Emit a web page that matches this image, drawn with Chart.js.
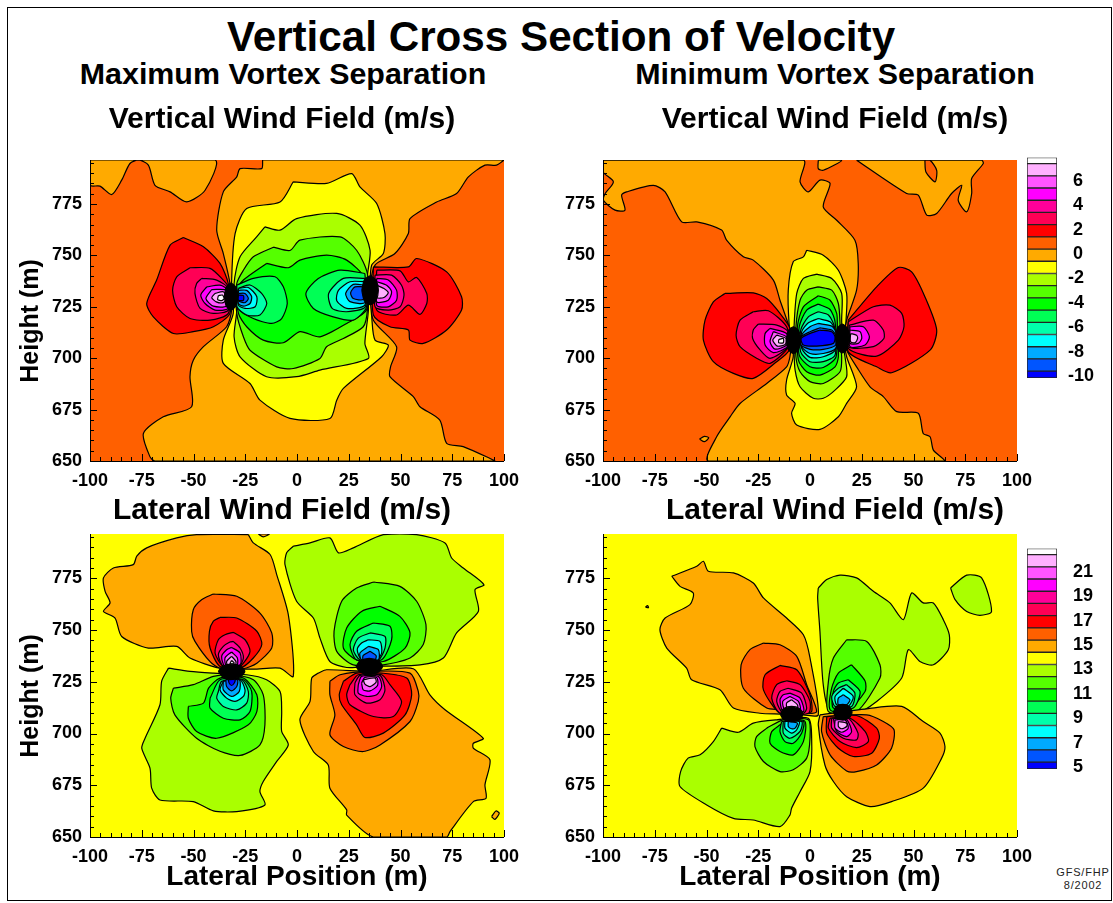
<!DOCTYPE html>
<html>
<head>
<meta charset="utf-8">
<script src="https://cdn.jsdelivr.net/npm/chart.js@4"></script>
<style>
html,body{margin:0;padding:0;background:#fff;overflow:hidden;width:1113px;height:903px}
#frame{position:absolute;left:7px;top:7px;width:1103px;height:892px;border:1px solid #000;box-sizing:content-box}
canvas{position:absolute}
.t{position:absolute;transform:translateX(-50%);white-space:nowrap;font-family:"Liberation Sans",Arial,sans-serif;font-weight:bold;color:#000;line-height:1}
.c{position:absolute;transform:translateX(-50%);white-space:nowrap;font-family:"Liberation Sans",Arial,sans-serif;color:#222;font-size:11px;line-height:1;letter-spacing:.8px}
</style>
</head>
<body>
<div id="frame"></div>
<div class="t" style="left:561px;top:16px;font-size:42.2px">Vertical Cross Section of Velocity</div>
<div class="t" style="left:283px;top:58px;font-size:30.4px">Maximum Vortex Separation</div>
<div class="t" style="left:835px;top:58px;font-size:30.4px">Minimum Vortex Separation</div>
<div class="c" style="left:1083px;top:867px">GFS/FHP</div>
<div class="c" style="left:1083px;top:880px">8/2002</div>
<canvas id="a" width="564" height="391" style="left:0;top:100px"></canvas>
<canvas id="b" width="556" height="391" style="left:557px;top:100px"></canvas>
<canvas id="c" width="564" height="405" style="left:0;top:490px"></canvas>
<canvas id="d" width="556" height="405" style="left:557px;top:490px"></canvas>
<canvas id="la" width="93" height="260" style="left:1020px;top:140px"></canvas>
<canvas id="lb" width="93" height="260" style="left:1020px;top:531px"></canvas>
<script>
const lateralTicks = [-100,-75,-50,-25,0,25,50,75,100];
const heightTicks = [650,675,700,725,750,775];
const heightMax = 796.4;
const verticalLegendLevels = [-10,-9,-8,-7,-6,-5,-4,-3,-2,-1,0,1,2,3,4,5,6,7,8];
const lateralLegendLevels = [5,6,7,8,9,10,11,12,13,14,15,16,17,18,19,20,21,22,23];
const verticalLegendLabels = [6,4,2,0,-2,-4,-6,-8,-10];
const lateralLegendLabels = [21,19,17,15,13,11,9,7,5];
const bandColors = ['#0000ff','#0055ff','#00aaff','#00ffff','#00ffaa','#00ff55','#00ff00','#55ff00','#aaff00','#ffff00','#ffaa00','#ff6000','#ff0000','#ff0055','#ff0099','#ff00ff','#ff55ff','#ffb0ff','#ffffff'];

// Each contour: [level, [[lateral, height], ...]]; level null = saturated vortex core
const contoursVerticalMax = [
 [1,[[-100,650],[100,650],[100,796.4],[-100,796.4]]],
 [0,[[-100,796.4],[-100,784.1],[-95.2,783.7],[-89.5,779.6],[-84.7,786.6],[-80.7,794.7],[-76.6,796.4],[-71.8,793.9],[-68.6,784.1],[-61.3,780.9],[-53.3,776],[-44.4,781.7],[-39.6,796.4]]],
 [0,[[-16.6,796.4],[100,796.4],[96.4,793.9],[90.8,793.9],[82.8,788.2],[77.1,780.1],[67.5,776],[54.6,767.9],[53.8,760.6],[47.3,750.9],[37.7,745.3],[35.3,731.5],[36.9,718.5],[48.1,705.6],[45.2,695.8],[44.9,691],[56.2,681.3],[59.4,676.4],[69,669.9],[72.3,658.6],[80.3,657],[94.8,650.5],[95.6,650],[-68.6,650],[-71,652],[-74.2,663.4],[-64.6,671.5],[-50.9,676.4],[-51.7,691],[-50.1,699],[-45.2,705.6],[-34,715.3],[-31.6,723.4],[-32.4,736.4],[-35.6,750.9],[-38.8,762.3],[-35.6,780.9],[-29.1,788.2],[-27.5,792.2],[-17.1,792.2]]],
 [-1,[[-1.8,785.8],[14.3,785],[26.4,789.8],[30.4,783.3],[38.5,775.2],[42.5,760.6],[41.7,750.9],[36.1,745.3],[35.3,733.1],[36.1,720.1],[37.7,708.8],[44.1,706.4],[40.9,700.7],[22.4,685.3],[19.2,679.6],[15.9,670.7],[-3.4,670.7],[-17.9,679.6],[-22.7,687.7],[-35.6,697.5],[-35.6,708.8],[-30.8,721.8],[-31.6,736.3],[-29.9,760.6],[-24.3,772.8],[-8.2,776]]],
 [-2,[[-15.5,763.9],[-8.2,762.3],[-.2,767.9],[19.2,770.4],[30.4,764.7],[35.3,752.5],[34,739.6],[34.5,723.4],[32.8,707.2],[34.5,699.9],[11.1,694.2],[-.2,691],[-14.7,691],[-27.5,700.7],[-30.4,710.4],[-29.1,723.4],[-30.4,736.3],[-27.5,749.3],[-19.5,759]]],
 [-3,[[-11.4,754],[-3.4,752.4],[1.4,757.4],[20.8,759],[28.8,752.5],[34,741.2],[34,723.4],[32,715.3],[22.4,709.6],[14.3,705.6],[11.1,699.9],[-1.8,695],[-9.8,695.8],[-22.7,703.9],[-25.9,710.4],[-29.1,721.8],[-29.1,736.3],[-25.9,742.8],[-21.1,749.3]]],
 [-4,[[-14.7,746.1],[-4.2,744],[1.4,747.7],[14.3,750.1],[24,747.7],[32.8,738.8],[33.6,723.4],[24,716.9],[11.1,710.4],[1.4,712.9],[-6.6,707.5],[-16.3,708.8],[-24.3,715.3],[-28.3,721.8],[-29.1,733.1],[-25.9,738]]],
 [-5,[[-29.1,735.5],[-21.1,738.8],[-10.6,739.6],[-6.6,734.7],[-4.7,726.6],[-7.4,719.3],[-12.2,716.9],[-21.1,719.3],[-28.3,724.2]]],
 [-5,[[32.8,741.2],[20.8,742.8],[10.3,738.8],[4.3,731.5],[7.9,724.2],[17.5,720.1],[27.2,718.5],[33.6,725]]],
 [-6,[[-28.3,734],[-22.7,735.6],[-17.1,731.5],[-14.6,726.6],[-17.9,721],[-24.3,721],[-29,725]]],
 [-6,[[32.8,738.8],[22.4,738.8],[15.3,731.5],[17,724.2],[24,722.6],[33,725]]],
 [-7,[[-28.3,733.9],[-23.5,734.4],[-19.4,729.9],[-20.2,725],[-25.1,724.2],[-28.3,725.8]]],
 [-7,[[32.8,737.2],[25.6,737.2],[20,733],[19.2,728],[24,724.2],[32.8,725.8]]],
 [-8,[[-28.3,733],[-24.3,733],[-21.9,729.9],[-22.7,726.6],[-25.9,725.3],[-28.3,726.6]]],
 [-8,[[32.8,735.5],[27.2,735.9],[23.5,731.5],[25.6,727.5],[32.8,727]]],
 [-9,[[-28.3,731.5],[-25.1,731.5],[-23.5,729],[-25.1,727],[-28.3,728]]],
 [-9,[[32,734.7],[28,734.7],[25.9,731.8],[27.2,729],[32,728.6]]],
 [-10,[[-28.3,730.7],[-25.9,730.4],[-25.9,728.2],[-28.3,728.2]]],
 [2,[[-54.9,758.7],[-45.2,754.2],[-37.2,746.1],[-33.2,736.3],[-32.4,721.8],[-40.4,715.3],[-50.1,712.9],[-59.7,712],[-69.4,720.1],[-72.6,726.6],[-67.8,738],[-61.3,755]]],
 [3,[[-51.7,744],[-42,743.7],[-35.6,738],[-33.2,734.7],[-33.2,721.8],[-42,718.5],[-51.7,719.3],[-58.1,725],[-60.1,733.1],[-58.1,739.6]]],
 [4,[[-46,738.8],[-38.8,738],[-33.2,733.9],[-33.2,723.4],[-40.4,721.8],[-46.8,724.2],[-49.3,731.5],[-48.5,736.3]]],
 [5,[[-43.6,734.7],[-37.2,735.5],[-33.2,733],[-33.2,724.2],[-39.6,723.4],[-44.4,726.6],[-46.5,730.7]]],
 [6,[[-41.2,733.4],[-34,733],[-34,725.5],[-40.4,725.3],[-44,729]]],
 [7,[[-39.6,731.5],[-35.6,732.3],[-34,729],[-35.6,727],[-39,727.4],[-41.2,729.5]]],
 [8,[[-38,730.4],[-36,730.7],[-35.2,729],[-36.4,728],[-38.3,728.5]]],
 [2,[[36.9,744.4],[53.8,744.4],[57.8,748.5],[72.3,742],[79.5,729.9],[79.5,723.4],[72.3,713.7],[61,707.2],[54.6,708.8],[53.8,713.7],[44.9,715.3],[36.9,721]]],
 [3,[[38.5,742.8],[49.8,742.5],[53.8,737.1],[57.8,739.3],[62.7,731.5],[62.7,726.6],[59.4,721.3],[53.8,725.8],[48.1,721],[38.5,723.4]]],
 [4,[[37.7,740.4],[45.7,740.4],[50.5,735.5],[51.7,730.7],[49.8,725],[44.1,723.4],[37.7,725]]],
 [5,[[38.5,738.8],[44.1,738],[48.1,733.1],[48.1,728.2],[44.1,725],[38.5,725.8]]],
 [6,[[38.5,737.2],[43.3,735.5],[45.7,732.3],[44.1,728.2],[38.5,727.4]]],
 [7,[[38.5,735.5],[42,733.9],[44.1,731.8],[42,729.5],[38.5,729.5]]],
 [null,[[-35.1,730],[-34.2,734.6],[-31.9,736.5],[-29.6,734.6],[-28.7,730],[-29.6,725.4],[-31.9,723.5],[-34.2,725.4]]],
 [null,[[31.3,733],[32.5,738],[35.3,740],[38.1,738],[39.3,733],[38.1,728],[35.3,726],[32.5,728]]]
];
const contoursVerticalMin = [
 [1,[[-100,650],[100,650],[100,796.4],[-100,796.4]]],
 [0,[[-100,796.3],[-100,790.6],[-95,785.8],[-99,780],[-99.8,776.8],[-94.2,772],[-89.4,772],[-91,779.3],[-88.6,780.9],[-75.7,784.1],[-70,780.9],[-62,766.3],[-54.7,766.3],[-42.7,762.3],[-40.3,757.4],[-32.2,749.3],[-27.4,747.7],[-17.7,738],[-14.5,728.2],[-10.1,715.3],[-8.9,708.8],[-9.7,700.7],[-11.3,695.8],[-20.9,687.7],[-33.8,678],[-38.6,671.5],[-45.1,661.8],[-49.1,650],[64.7,650],[59.6,655.3],[58,661.8],[54.7,663.4],[52.3,673.2],[41.9,674],[35.4,681.3],[29,686.1],[22.5,695.8],[17.7,703.9],[16.1,708.8],[17.7,718.5],[22.5,733.1],[23.3,746.1],[21.7,757.4],[12.9,767.1],[6.4,773.6],[9.7,785],[4.8,786.6],[-.8,780.9],[-4.8,785.8],[-3.2,796.3]]],
 [0,[[22.5,796.3],[46.7,780.1],[52.3,779.3],[56.4,769.6],[61.2,770.4],[68.4,780.1],[73.3,784.1],[71.6,776.8],[75.7,771.2],[78.1,780.1],[78.1,787.4],[83.7,794.7],[82.9,796.3]]],
 [1,[[55.5,796.3],[56,790.6],[60.4,785.8],[61.2,791.4],[58,796.3]]],
 [0,[[4,796.3],[4,792.2],[6.4,791.4],[15.3,796.3]]],
 [0,[[-53.4,660.7],[-51,662],[-48.9,661.3],[-51,659.4]]],
 [-1,[[-1.6,752.5],[6.4,750.1],[13.7,742.8],[17.7,731.5],[17.4,718.5],[16.4,708.8],[17.7,700.7],[22.5,686.1],[17.7,678],[13.7,671.5],[4.8,665.4],[-6.4,667.5],[-8.9,673.2],[-7.2,678],[-11.3,682.1],[-11.3,689.4],[-8.1,700.7],[-8.9,708.8],[-10.1,716.9],[-10.5,733.1],[-8.1,746.9],[-3.2,749.3]]],
 [-2,[[3.2,740.9],[10.5,738.8],[15.3,731.5],[15.3,718.5],[15.6,708.8],[16.9,700.7],[17.7,691],[12.1,684.5],[6.4,680.5],[1.6,680.5],[-4.8,686.1],[-7.2,694.2],[-7.7,703.9],[-7.7,715.3],[-6.4,731.5],[-3.2,738.8]]],
 [-3,[[4,734.7],[10.5,733.1],[13.7,726.6],[14.5,716.9],[14.5,708.8],[15.3,700.7],[14.5,693.4],[6.4,687.7],[0,688.6],[-4.8,693.4],[-6.8,700.7],[-6.8,715.3],[-4.8,728.2],[-1.6,733.1]]],
 [-4,[[4,730.4],[9.7,728.2],[12.9,721.8],[13.2,715.3],[13.7,700.7],[12.1,695.8],[4.8,691.8],[-1.6,693.4],[-5.6,699.1],[-6.1,715.3],[-3.2,725]]],
 [-5,[[4,726.3],[9.7,723.7],[12.1,717.7],[12.6,700.7],[6.4,695.5],[0,695.8],[-5.2,701.5],[-5.2,715.3],[-1.6,723.4]]],
 [-6,[[4,722.6],[8.9,721],[11.8,715.3],[12.1,701.5],[6.4,698.3],[0,698.3],[-4.5,703.1],[-4.5,713.7],[-.8,720.1]]],
 [-7,[[4,719.3],[9.7,717.7],[12.1,713.7],[12.1,703.9],[6.4,700.7],[0,700.4],[-4,704.8],[-4,712.9],[-.8,717.2]]],
 [-8,[[4,716.9],[10.5,715.6],[12.4,712.9],[12.4,704.8],[6.4,702.3],[0,702.3],[-4,705.6],[-4,711.2],[0,715.3]]],
 [-9,[[4.8,714.8],[10.5,713.7],[12.4,711.2],[12.4,706.4],[6.4,704.3],[0,704.3],[-4.3,706.4],[-4.3,710.4],[0,712.9]]],
 [-10,[[4.8,713.7],[10.5,712.9],[12.1,710.4],[11.3,707.2],[3.2,705.9],[-3.2,706.4],[-4.3,709.6],[-.8,711.7]]],
 [2,[[-41.1,731.5],[-27.4,731.8],[-20.9,729],[-14.5,721.8],[-9.7,714.5],[-10.1,703.9],[-16.1,698.3],[-27.4,690.2],[-37,692.6],[-46.7,698.3],[-51.5,708.8],[-50.7,718.5],[-46.7,727.4]]],
 [3,[[-27.4,722.6],[-20.1,723.1],[-11.3,715.3],[-10.5,705.6],[-19.3,697.5],[-25.8,700],[-33.8,705.6],[-35.7,711.2],[-33.8,718.5]]],
 [4,[[-25,716.6],[-16.1,716.1],[-10.5,712.9],[-10.5,705.6],[-19.3,699.9],[-24.1,704],[-27.7,709.6],[-27.4,713.7]]],
 [5,[[-19.3,714.5],[-11.3,712],[-10.9,705.6],[-17.7,702.7],[-21.7,706.4],[-21.7,712]]],
 [6,[[-17.7,712.9],[-11.3,710.4],[-11.3,706.4],[-16.9,704.4],[-19.3,708]]],
 [7,[[-16.1,711.2],[-11.6,709.6],[-12,706.7],[-15.8,705.9],[-18,708.8]]],
 [8,[[-15.1,709.1],[-12.9,709.6],[-12.9,707.5],[-15.1,707.5]]],
 [2,[[18.5,718.5],[32.2,734.7],[42.7,744.1],[49.1,742],[55.5,729.9],[61.2,713.7],[58,703.9],[39.4,692.9],[32.2,695.8],[18.5,703.1]]],
 [3,[[18.5,717.7],[30.6,725],[38.6,725.8],[44.3,721.8],[45.4,715.3],[42.7,708.8],[32.2,701],[18.5,704.8]]],
 [4,[[19,716.1],[30.6,718.5],[35.4,713.7],[35.7,709.6],[30.6,705.6],[18.5,705.6]]],
 [5,[[19.3,715.3],[25.8,715.3],[28.7,710.4],[26.6,706.4],[19.3,705.6]]],
 [6,[[19.3,713.7],[24.2,712.9],[25,709.6],[23.3,707.2],[19.3,707.2]]],
 [7,[[19.6,712],[22.5,711.2],[23,709.6],[21.7,707.5],[19.6,708]]],
 [null,[[-11.5,708.8],[-10.5,713.4],[-8,715.3],[-5.5,713.4],[-4.5,708.8],[-5.5,704.2],[-8,702.3],[-10.5,704.2]]],
 [null,[[12.3,709.6],[13.2,714.5],[15.6,716.6],[18,714.5],[18.9,709.6],[18,704.7],[15.6,702.6],[13.2,704.7]]]
];
const contoursLateralMax = [
 [14,[[-100,650],[100,650],[100,796.4],[-100,796.4]]],
 [15,[[-23.5,796.1],[-21.1,792.1],[-13,786.5],[-9.8,776.8],[-4.2,757.4],[-1.8,727.6],[-8.2,731.6],[-21.1,731.1],[-37.2,731.6],[-51.7,736.5],[-58.1,742.1],[-71.8,741.3],[-84.7,746.9],[-87.9,755.8],[-93.5,759],[-90.3,763.1],[-92.7,768.7],[-93.5,775.2],[-88.7,780],[-79.1,781.6],[-77.4,785.7],[-72.6,789.7],[-58.1,794.5],[-48.5,796.1]]],
 [15,[[-18.7,796.4],[-16.3,795],[-13.4,796.4]]],
 [16,[[-40.4,767.4],[-29.1,766.3],[-17.9,758.2],[-12.2,748.6],[-12.2,741.3],[-19.4,734],[-25.9,731.3],[-37.2,731.6],[-42,734.7],[-49.3,744.5],[-50.9,749.3],[-50.1,759.8],[-46.1,764.6]]],
 [17,[[-37.2,756.1],[-29.1,755.8],[-19.4,749.4],[-17,743],[-21.1,736.5],[-27.5,731.6],[-37.2,732.4],[-42,741.3],[-42.3,749.4],[-40.4,754.3]]],
 [18,[[-30.8,748.9],[-25.1,745.3],[-22.7,739.7],[-25.9,734],[-29.1,731.6],[-35.6,732.4],[-39.6,738.9],[-38,745.3],[-34.8,747.7]]],
 [19,[[-30.8,744.5],[-27.5,741.3],[-25.9,736.5],[-28.3,732],[-35.6,732.4],[-38,738.1],[-35.6,742.1],[-32.4,744.2]]],
 [20,[[-31.6,741.6],[-27.5,738.9],[-27.5,733.2],[-34.8,732.4],[-36.4,737.3],[-34,740.5]]],
 [21,[[-31.6,739.4],[-28.8,736.5],[-29.1,732.4],[-34,732.4],[-34.8,736.5]]],
 [22,[[-31.6,737.3],[-29.5,734.8],[-30,732.4],[-33.2,732.4],[-34,734.8]]],
 [23,[[-31.6,735.3],[-30.3,734],[-32.4,733.7]]],
 [13,[[-62.1,731.6],[-51.7,730],[-40.4,729.2],[-24.3,728.4],[-14.7,726],[-8.2,720.3],[-7.4,710.6],[-7.4,701],[-4.2,694.5],[-9.8,686.5],[-16.3,676.8],[-17.9,671.9],[-15.5,665.5],[-29.1,662.3],[-40.4,662.6],[-50.1,667.1],[-66.2,667.9],[-70.2,673.6],[-71,683.2],[-75,692.9],[-73.4,697.7],[-66.2,713.9],[-65.4,725.2]]],
 [12,[[-59.7,721.9],[-50.1,723.6],[-40.4,727.6],[-31.6,728.4],[-21.1,726],[-16.3,718.7],[-15.5,704.2],[-17.9,694.5],[-27.5,689.4],[-37.2,691.4],[-48.5,697.7],[-59,709],[-61,717]]],
 [11,[[-52.5,713.1],[-45.2,714.7],[-42.7,721.9],[-37.2,726.8],[-25.9,726.8],[-19.4,718.7],[-19.4,710.6],[-23.5,704.2],[-38.8,697.7],[-48.5,701],[-52.5,707.4]]],
 [10,[[-42,717],[-37.2,726],[-25.9,726],[-21.9,720.3],[-22.7,710.6],[-27.5,706.6],[-35.6,707.4],[-42,712.3]]],
 [9,[[-38,720.3],[-36.4,725.2],[-26.7,726],[-23.5,720.3],[-24.3,714.7],[-29.1,711.4],[-35.6,713.1],[-38.8,717.1]]],
 [8,[[-35.6,725.2],[-27.5,726],[-25.1,721.1],[-25.9,717.9],[-29.9,715.5],[-34,717.1],[-37.2,721.1]]],
 [7,[[-35.6,725.2],[-27.9,726],[-27.9,720.3],[-31.6,717.9],[-35.6,721.1]]],
 [6,[[-34.4,726],[-28.8,726],[-29.1,722.7],[-31.6,720.6],[-34,722.7]]],
 [5,[[-33.2,726],[-29.9,726],[-30.3,724.4],[-31.6,723.2],[-32.8,724.4]]],
 [13,[[-1.8,790.5],[-5,787.3],[-5.8,781.6],[-.2,763.9],[7.9,755.8],[11.1,746.1],[15.9,734.8],[24,731.9],[35.3,732.4],[59.4,733.2],[70.7,736.5],[77.1,748.6],[87.6,759],[86,769.5],[90.3,771.9],[80.3,780],[74.7,784.8],[71.5,792.1],[57.8,796.1],[41.7,796.1],[27.2,789.7],[20,787.3],[15.9,794.5],[6.3,792.1]]],
 [12,[[37.1,773.2],[49.7,771.1],[57.8,763.9],[62.3,752.6],[61,743],[54.6,736.5],[41.7,733.2],[27.2,733.2],[19.2,739.7],[17.9,749.4],[21.6,763.9],[28.8,770.3]]],
 [11,[[40.1,761.5],[49.7,756.6],[54.6,748.6],[52.2,741.3],[41.7,734.8],[28.8,735.6],[22.4,741.3],[24,751],[31.2,759]]],
 [10,[[36.9,753.4],[44.9,751.8],[45.7,745.3],[40.9,735.6],[28.8,735.6],[25.6,742.9],[28.8,749.4]]],
 [9,[[35.3,748.6],[42.5,746.9],[42.5,741.3],[39.3,735.6],[30.4,735.6],[27.2,740.5],[29.6,746.1]]],
 [8,[[34.5,745.3],[40.1,744.5],[40.9,738.9],[38.5,735.6],[31.2,735.6],[29.1,740.5],[31.2,743.7]]],
 [7,[[34.5,742.1],[39.3,740.5],[39.3,735.6],[31.2,735.6],[30.4,738.9]]],
 [6,[[35.3,739.7],[38.2,737.7],[37.7,735.6],[32,735.6],[32,737.7]]],
 [15,[[10.3,729.2],[14.3,730.8],[35.3,730],[56.2,731.3],[64.2,718.7],[71.5,711.5],[90,697.7],[85.2,695.3],[85.2,692.9],[93.2,687.3],[90.8,675.2],[91.3,668.7],[85.2,667.1],[73.9,652.6],[72.3,650],[36.9,650],[24,660.6],[24,663.1],[15.9,673.6],[15.1,684.8],[7.9,691.3],[1.4,706.6],[6.3,715.5],[7.1,726.8]]],
 [15,[[94,659.8],[96.1,662.6],[97.7,661.5],[95.6,658.5]]],
 [16,[[15.9,725.2],[20.8,728.4],[35.3,730],[54.6,729.2],[58.6,720.3],[58.6,715.5],[54.6,705.8],[40.1,694.5],[32,691.3],[22.4,693.7],[15.9,699.4],[18.3,709],[15.9,718.7]]],
 [17,[[22.4,725.2],[28.8,729.2],[40.9,729.2],[53,726.8],[55.4,718.7],[52.2,709],[41.7,700.2],[32.8,698.1],[28.8,704.2],[21.6,713.9],[20.4,718.7]]],
 [18,[[25.6,723.6],[29.6,728.4],[40.9,728.4],[44.9,723.6],[50.5,715.5],[46.5,708.2],[36.9,708.2],[25.6,713.9],[24,718.7]]],
 [19,[[28,724.4],[30.4,728.1],[40.1,728.1],[42.5,721],[40.1,716.3],[33.6,714.7],[28,718.7]]],
 [20,[[29.6,723.6],[31.2,727.6],[39.3,727.6],[40.9,722.7],[38.5,718.7],[33.6,717.9],[29.6,719.5]]],
 [21,[[31.2,724.4],[32.8,727.1],[38.5,727.1],[38.9,723.2],[35.3,720.6],[32,721.1]]],
 [22,[[32,726],[37.7,726.8],[38.2,724.8],[35.3,722.7],[32.8,723.9]]],
 [null,[[-38,730],[-36,732.5],[-31.6,733.5],[-27.2,732.5],[-25.2,730],[-27.2,727.5],[-31.6,726.5],[-36,727.5]]],
 [null,[[28.5,732.4],[30.5,735.1],[34.9,736.3],[39.3,735.1],[41.3,732.4],[39.3,729.7],[34.9,728.5],[30.5,729.7]]]
];
const contoursLateralMin = [
 [14,[[-100,650],[100,650],[100,796.4],[-100,796.4]]],
 [15,[[-66.8,776],[-54.7,780.8],[-51.5,783.2],[-49.1,778.4],[-37,777.6],[-27.4,772.7],[-22.5,765.5],[-11.3,755.8],[-3.2,747.7],[0,736.5],[4,709],[-3.2,709],[-14.5,709.4],[-24.2,709.8],[-37,712.3],[-43.5,721.1],[-57.2,726],[-59.6,731.6],[-69.2,741.3],[-72.5,750.2],[-70,755.8],[-58,762.3],[-56.4,767.9],[-62.8,771.1]]],
 [15,[[-79.5,761],[-78.5,761.8],[-78,760.8]]],
 [16,[[-22.5,743.7],[-14.5,742.9],[-6.4,737.3],[-1.6,723.6],[3.2,710.6],[-3.2,709.8],[-14.5,711.5],[-20.9,712.3],[-32.2,721.9],[-33.3,733.2],[-29,740.5]]],
 [17,[[-14.5,732.9],[-6.4,730.8],[0,718.7],[.8,710.6],[-3.2,709.8],[-14.5,709.8],[-22.5,721.1],[-21.7,728.4]]],
 [18,[[-11.3,725.5],[-4.8,723.6],[0,715.5],[-.8,709.8],[-14.5,709.8],[-18.5,717.1],[-16.1,723.6]]],
 [19,[[-10.5,721.9],[-4,719.5],[-1.6,712.3],[-3.2,709.8],[-12.9,709.8],[-16.1,715.5],[-14.5,720.3]]],
 [20,[[-9.7,719.5],[-4.8,717.1],[-3.2,710.6],[-12.9,710.6],[-14.5,716.3],[-12.9,718.7]]],
 [21,[[-9.7,717.9],[-5.6,715.5],[-4.8,711.5],[-12.1,711.5],[-13.2,715.5]]],
 [22,[[-8.9,716.3],[-6.1,713.9],[-6.1,711.9],[-10.9,711.9],[-11.3,714.7]]],
 [13,[[4,770.3],[8.1,774.4],[14.5,776.5],[22.5,775.2],[30.6,768.7],[38.6,763.1],[45.1,755],[49.1,767.9],[54.7,763.1],[59.6,763.1],[64.4,755],[67.3,747.7],[66.8,740.5],[59.6,733.2],[53.1,734.8],[47.5,740.5],[44.3,726.8],[32.2,715.5],[22.5,709.8],[9.7,710.6],[6.4,723.6],[4.8,749.4],[3.7,765.5]]],
 [13,[[67.9,770.3],[75.7,776.5],[82.9,775.2],[87.7,759],[82.1,757.1],[75.7,759],[70.1,764.7]]],
 [12,[[17.7,745.3],[27.4,744.5],[33.8,733.2],[33.8,726.8],[22.5,710.6],[8.9,710.6],[8.9,725.2],[11.3,736.5]]],
 [11,[[20.1,733.2],[26.6,725.4],[26.6,720.3],[17.7,710.6],[9.7,711.5],[10.5,722],[13.7,729.2]]],
 [10,[[18.5,726],[24.2,720.3],[20.9,712.3],[11.3,712.3],[11.3,720.3],[13.7,724.4]]],
 [9,[[17.7,723.6],[21.7,719.5],[20.1,713.1],[12.1,713.1],[10.5,717.9],[13.7,721.9]]],
 [8,[[16.1,721.9],[20.9,717.9],[18.5,713.1],[12.9,713.9],[12.1,717.9]]],
 [7,[[16.1,718.7],[19.3,716.3],[17.7,713.9],[13.7,713.9],[13.7,717.1]]],
 [13,[[-42.7,702.6],[-34.6,700.6],[-27.4,705],[-16.1,706.6],[-.8,707.4],[.8,697.7],[0,681.6],[-4.8,671.9],[-8.9,663.9],[-9.7,660.6],[-14.5,655],[-27.4,658.2],[-37,659],[-49.9,665.5],[-62.8,674.4],[-62.5,681.6],[-58.9,688.1],[-53.1,689.7],[-46.7,696.1]]],
 [12,[[-20.9,702.6],[-12.9,706.6],[-.8,706.6],[0,697.7],[-1.6,688.1],[-8.1,682.5],[-14.5,681.6],[-22.5,686.5],[-26.6,693.7],[-25.8,698.5]]],
 [11,[[-14.5,704.2],[-9.7,706.6],[-2.4,705.8],[-3.2,696.1],[-8.1,689.7],[-14.5,691.3],[-19.3,695.3],[-18.5,700.9]]],
 [10,[[-13.7,705.8],[-3.2,705.8],[-4,700.2],[-8.1,695.3],[-12.1,696.1],[-14.5,700.9]]],
 [9,[[-12.9,705.8],[-4,705.8],[-4.8,701],[-9.7,697.7],[-12.9,700.2]]],
 [8,[[-12.1,705.8],[-5.2,705.8],[-6.4,701.8],[-8.9,700.2],[-12.1,702.6]]],
 [7,[[-10.5,705.8],[-6.1,705],[-7.2,702.6],[-8.9,702.3],[-10.5,703.4]]],
 [15,[[4.8,709],[27.4,711.9],[44.3,713.1],[54.7,705.8],[62.8,700.2],[65.2,693.7],[63.6,688.1],[54.7,673.6],[39.4,667.1],[29,664.7],[17.7,669.5],[11.3,676.8],[7.2,684.8],[4,704.2]]],
 [16,[[6.4,708.2],[27.4,709],[35.4,705.8],[40.6,701.8],[39.4,692.9],[32.2,684.8],[22.5,681.6],[17.7,681.9],[9.7,689.7],[5.6,700.9]]],
 [17,[[8.1,708.2],[22.5,708.7],[32.2,702.6],[33.5,697.7],[29.8,690.5],[20.9,688.9],[13.7,692.9],[8.1,700.2]]],
 [18,[[9.7,707.4],[19.3,707.4],[26.6,701],[28.2,696.1],[22.5,693.2],[14.5,696.1],[8.9,702.6]]],
 [19,[[10.5,707.4],[18.5,707.4],[23.2,700.2],[22.5,696.9],[16.1,697.7],[10.5,702.6]]],
 [20,[[11.3,707.4],[17.7,706.6],[20.1,701],[17.7,698.5],[12.9,701]]],
 [21,[[12.1,706.6],[16.9,706.6],[18.5,702.6],[15.3,700.6],[12.1,702.6]]],
 [22,[[13.7,705.8],[17.7,705],[17.7,703.4],[15.3,702.3],[13.7,703.4]]],
 [null,[[-14.4,709.4],[-12.8,712],[-8.9,713.1],[-5,712],[-3.4,709.4],[-5,706.8],[-8.9,705.7],[-12.8,706.8]]],
 [null,[[11.3,710.3],[12.6,713],[15.8,714.1],[19,713],[20.3,710.3],[19,707.6],[15.8,706.5],[12.6,707.6]]]
];

const FONT = '"Liberation Sans", Arial, sans-serif';

const inwardTicks = {
  id: 'inwardTicks',
  afterDatasetsDraw(chart) {
    const {ctx, chartArea: a, scales: {x, y}} = chart;
    ctx.save();
    ctx.strokeStyle = '#000';
    ctx.lineWidth = 1;
    ctx.beginPath();
    ctx.moveTo(a.left + .5, a.top); ctx.lineTo(a.left + .5, a.bottom + .5); ctx.lineTo(a.right, a.bottom + .5);
    x.ticks.forEach(t => {
      const p = Math.round(x.getPixelForValue(t.value)) + .5, len = t.value % 25 === 0 ? 7 : 4;
      ctx.moveTo(p, a.bottom); ctx.lineTo(p, a.bottom - len);
    });
    y.ticks.forEach(t => {
      const p = Math.round(y.getPixelForValue(t.value)) + .5, len = t.value % 25 === 0 ? 7 : 4;
      ctx.moveTo(a.left, p); ctx.lineTo(a.left + len, p);
    });
    ctx.stroke();
    ctx.restore();
  }
};

function contourDatasets(contours, lowest) {
  return contours.map(([level, pts], i) => {
    const closed = pts.concat([pts[0]]).map(([x, y]) => ({x, y}));
    const isBase = i === 0;
    return {
      data: closed,
      showLine: true,
      fill: 'shape',
      tension: isBase ? 0 : 0.25,
      backgroundColor: level === null ? '#000' : bandColors[level - lowest],
      borderColor: isBase ? 'rgba(0,0,0,0)' : '#000',
      borderWidth: isBase ? 0 : 1.2,
      pointRadius: 0,
      pointHoverRadius: 0,
      order: contours.length - i
    };
  });
}

function panel(id, contours, lowest, titleText, opts) {
  const el = document.getElementById(id);
  new Chart(el, {
    type: 'scatter',
    data: {datasets: contourDatasets(contours, lowest)},
    plugins: [inwardTicks],
    options: {
      responsive: false,
      animation: false,
      events: [],
      layout: {autoPadding: false, padding: 0},
      plugins: {
        legend: {display: false},
        tooltip: {enabled: false},
        title: {display: true, text: titleText, color: '#000', font: {family: FONT, size: 30, weight: 'bold', lineHeight: 1.2}, padding: opts.titlePad}
      },
      scales: {
        x: {
          type: 'linear', min: -100, max: 100,
          grid: {display: false}, border: {display: false},
          afterFit: s => { s.height = opts.xh; },
          title: opts.xTitle ? {display: true, text: 'Lateral Position (m)', color: '#000', font: {family: FONT, size: 28, weight: 'bold', lineHeight: 1.2}, padding: {top: 0, bottom: 1}} : {display: false},
          ticks: {
            stepSize: 5, autoSkip: false, maxRotation: 0, minRotation: 0, padding: 1, color: '#000',
            font: {family: FONT, size: 18, weight: 'bold'},
            callback: v => lateralTicks.includes(v) ? String(v) : ''
          }
        },
        y: {
          type: 'linear', min: 650, max: heightMax,
          grid: {display: false}, border: {display: false},
          afterFit: s => { s.width = opts.yw; },
          title: opts.yTitle ? {display: true, text: 'Height (m)\u00a0\u00a0\u00a0', color: '#000', font: {family: FONT, size: 25, weight: 'bold', lineHeight: 1.2}, padding: {top: 16, bottom: 0}} : {display: false},
          ticks: {
            stepSize: 5, includeBounds: false, autoSkip: false, padding: 0, color: '#000',
            font: {family: FONT, size: 18, weight: 'bold'},
            callback: v => heightTicks.includes(v) ? String(v) : ''
          }
        },
        gutter: {
          axis: 'y', position: 'right', type: 'linear', min: 0, max: 1,
          grid: {display: false}, border: {display: false}, ticks: {display: false},
          afterFit: s => { s.width = opts.right; }
        }
      }
    }
  });
}

function colorbar(id, levels, labels, zeroLevel) {
  const datasets = levels.map((lv, i) => ({
    data: [[Math.max(lv - 0.6, zeroLevel - 10.16), Math.min(lv + 0.4, zeroLevel + 7.9)]],
    backgroundColor: bandColors[i],
    borderColor: '#222',
    borderWidth: 1,
    borderSkipped: false,
    barPercentage: 1,
    categoryPercentage: 1,
    grouped: false
  }));
  new Chart(document.getElementById(id), {
    type: 'bar',
    data: {labels: [''], datasets},
    options: {
      responsive: false,
      animation: false,
      events: [],
      layout: {autoPadding: false, padding: {left: 7, right: 0, top: 17.5, bottom: 22}},
      plugins: {legend: {display: false}, tooltip: {enabled: false}, title: {display: false}},
      scales: {
        x: {display: false, grid: {display: false}},
        y: {
          position: 'right', type: 'linear',
          min: zeroLevel - 10.16, max: zeroLevel + 7.9,
          grid: {display: false}, border: {display: false},
          afterFit: s => { s.width = 56; },
          ticks: {
            stepSize: 1, includeBounds: false, autoSkip: false, padding: 3, color: '#000',
            font: {family: FONT, size: 18, weight: 'bold'},
            callback: v => labels.includes(v) ? (v < 0 ? String(v) : '\u00a0' + v) : ''
          }
        }
      }
    }
  });
}

panel('a', contoursVerticalMax, -10, 'Vertical Wind Field (m/s)', {right: 60, xh: 30, yw: 90, yTitle: true, xTitle: false, titlePad: {top: 2, bottom: 22}});
panel('b', contoursVerticalMin, -10, 'Vertical Wind Field (m/s)', {right: 96, xh: 30, yw: 46, yTitle: false, xTitle: false, titlePad: {top: 2, bottom: 22}});
panel('c', contoursLateralMax, 5, 'Lateral Wind Field (m/s)', {right: 60, xh: 58, yw: 90, yTitle: true, xTitle: true, titlePad: {top: 3, bottom: 5}});
panel('d', contoursLateralMin, 5, 'Lateral Wind Field (m/s)', {right: 96, xh: 58, yw: 46, yTitle: false, xTitle: true, titlePad: {top: 3, bottom: 5}});
colorbar('la', verticalLegendLevels, verticalLegendLabels, 0);
colorbar('lb', lateralLegendLevels, lateralLegendLabels, 15);
</script>
</body>
</html>
